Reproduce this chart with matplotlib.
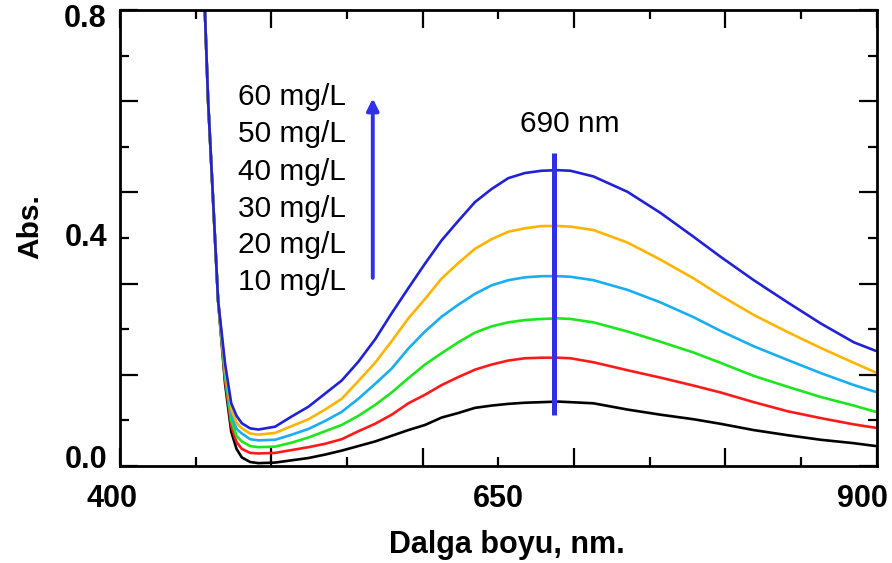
import matplotlib
matplotlib.use("Agg")
import matplotlib.pyplot as plt
from matplotlib.ticker import MultipleLocator, FixedLocator, NullFormatter
from matplotlib.transforms import ScaledTranslation

plt.rcParams['font.family'] = ['Liberation Sans', 'DejaVu Sans']

# ---- data ----
wl_steep = [455.6, 458.2, 461.5, 464.8]
abs_steep = [0.835, 0.642, 0.467, 0.291]

wavelength = [469.4, 473.5, 477.0, 480.5, 486.0, 491.5,
              502.5, 513.5, 524.5, 535.5, 546.5, 557.5, 568.5, 579.5, 590.5,
              601.5, 612.5, 623.5, 634.5, 645.5, 656.5, 667.5, 678.5, 689.5,
              697.6, 712.8, 735.3, 757.1, 779.0, 796.8, 818.7, 841.1, 863.0,
              884.8, 899.3]

abs_10 = [0.145, 0.060, 0.030, 0.015, 0.007, 0.005,
          0.006, 0.010, 0.014, 0.020, 0.027, 0.035, 0.043, 0.053, 0.063,
          0.072, 0.085, 0.093, 0.102, 0.106, 0.109, 0.111, 0.112, 0.113,
          0.112, 0.110, 0.099, 0.090, 0.082, 0.074, 0.063, 0.054, 0.046,
          0.040, 0.035]
abs_20 = [0.152, 0.070, 0.042, 0.030, 0.023, 0.022,
          0.023, 0.028, 0.033, 0.039, 0.047, 0.061, 0.074, 0.090, 0.110,
          0.125, 0.142, 0.156, 0.169, 0.178, 0.185, 0.189, 0.190, 0.190,
          0.189, 0.182, 0.168, 0.155, 0.141, 0.129, 0.112, 0.096, 0.084,
          0.073, 0.067]
abs_30 = [0.158, 0.080, 0.053, 0.043, 0.035, 0.033,
          0.034, 0.041, 0.050, 0.061, 0.072, 0.088, 0.107, 0.129, 0.154,
          0.178, 0.198, 0.217, 0.234, 0.245, 0.252, 0.256, 0.258, 0.259,
          0.258, 0.252, 0.236, 0.218, 0.199, 0.181, 0.158, 0.139, 0.121,
          0.106, 0.095]
abs_40 = [0.165, 0.090, 0.065, 0.057, 0.047, 0.045,
          0.046, 0.055, 0.065, 0.079, 0.095, 0.118, 0.144, 0.171, 0.206,
          0.236, 0.262, 0.283, 0.302, 0.317, 0.326, 0.331, 0.333, 0.333,
          0.332, 0.326, 0.309, 0.287, 0.261, 0.237, 0.210, 0.186, 0.163,
          0.142, 0.130]
abs_50 = [0.172, 0.100, 0.076, 0.066, 0.057, 0.055,
          0.058, 0.070, 0.082, 0.099, 0.118, 0.149, 0.181, 0.219, 0.259,
          0.293, 0.329, 0.356, 0.381, 0.398, 0.411, 0.417, 0.421, 0.421,
          0.420, 0.414, 0.392, 0.362, 0.329, 0.299, 0.265, 0.235, 0.207,
          0.181, 0.164]
abs_60 = [0.180, 0.110, 0.088, 0.075, 0.066, 0.064,
          0.069, 0.087, 0.104, 0.127, 0.150, 0.183, 0.222, 0.268, 0.312,
          0.355, 0.396, 0.430, 0.463, 0.486, 0.505, 0.514, 0.518, 0.519,
          0.518, 0.508, 0.481, 0.444, 0.402, 0.367, 0.326, 0.287, 0.250,
          0.217, 0.202]

series = [abs_10, abs_20, abs_30, abs_40, abs_50, abs_60]
labels = ["10 mg/L", "20 mg/L", "30 mg/L", "40 mg/L", "50 mg/L", "60 mg/L"]
colors = ["#000000", "#ff1a1a", "#1ee61e", "#18aef0", "#ffb400", "#2121d6"]

peak_nm = 687
peak_label = "690 nm"
peak_line = (0.089, 0.549)

label_x = 478
label_base_y = [0.309, 0.374, 0.437, 0.502, 0.568, 0.633]
arrow_x = 567
arrow_y = (0.330, 0.645)

# ---- figure ----
fig = plt.figure(figsize=(8.92, 5.63), dpi=100)
ax = fig.add_axes([0.1345, 0.1723, 0.8485, 0.8099])

for vals, c in zip(series, colors):
    ax.plot(wl_steep + wavelength, abs_steep + vals, color=c, lw=1.9,
            solid_joinstyle='round', solid_capstyle='round', clip_on=True)

ax.plot([peak_nm, peak_nm], peak_line, color="#3030e6", lw=3.6, solid_capstyle='butt')
ax.text(697, 0.586, peak_label, fontsize=21.5, ha='center', va='baseline')

for lab, yb in zip(labels, label_base_y):
    ax.text(label_x, yb, lab, fontsize=21.5, ha='left', va='baseline')

ax.annotate("", xy=(arrow_x, arrow_y[1]), xytext=(arrow_x, arrow_y[0]),
            arrowprops=dict(arrowstyle='-|>,head_width=0.35,head_length=0.7',
                            color="#3030e6", lw=2.8, shrinkA=0, shrinkB=0))

ax.set_xlim(400, 900)
ax.set_ylim(0, 0.8)

ax.xaxis.set_major_locator(MultipleLocator(100))
ax.xaxis.set_minor_locator(MultipleLocator(50))
ax.yaxis.set_major_locator(MultipleLocator(0.16))
ax.yaxis.set_minor_locator(FixedLocator([0.08, 0.24, 0.40, 0.56, 0.72]))
ax.xaxis.set_major_formatter(NullFormatter())
ax.yaxis.set_major_formatter(NullFormatter())
ax.xaxis.set_minor_formatter(NullFormatter())
ax.yaxis.set_minor_formatter(NullFormatter())

ax.tick_params(which='both', direction='in', top=True, right=True,
               labelbottom=False, labelleft=False, width=1.6)
ax.tick_params(which='major', length=13)
ax.tick_params(which='minor', length=6.5)
for s in ax.spines.values():
    s.set_linewidth(2.0)

# tick labels at 400 / 650 / 900 and 0.0 / 0.4 / 0.8
xt = [400, 650, 900]
xoff = [-8, 0, -14]
for v, off in zip(xt, xoff):
    t = ax.text(v, 0, f"{v}", fontsize=22, fontweight='bold', ha='center', va='top')
    t.set_transform(ax.get_xaxis_transform() + ScaledTranslation(off / 100, -18 / 100, fig.dpi_scale_trans))
yt = [0.0, 0.4, 0.8]
yoff = [6, 0, -9]
for v, off in zip(yt, yoff):
    t = ax.text(0, v, f"{v:.1f}", fontsize=22, fontweight='bold', ha='right', va='center')
    t.set_transform(ax.get_yaxis_transform() + ScaledTranslation(-13 / 100, off / 100, fig.dpi_scale_trans))

ax.set_xlabel("Dalga boyu, nm.", fontsize=22, fontweight='bold')
ax.set_ylabel("Abs.", fontsize=21.5, fontweight='bold')
ax.xaxis.set_label_coords(0.511, -0.140)
ax.yaxis.set_label_coords(-0.100, 0.526)

fig.savefig("out.png", dpi=100)
